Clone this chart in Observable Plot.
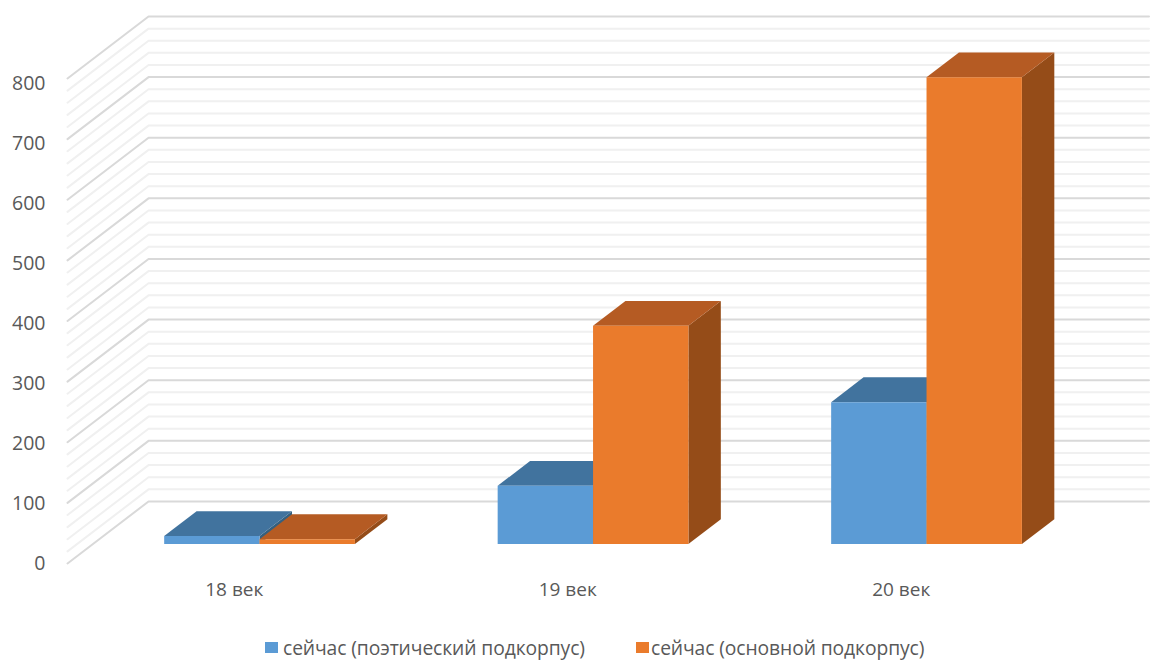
<!DOCTYPE html>
<html lang="ru">
<head>
<meta charset="utf-8">
<script src="https://cdn.jsdelivr.net/npm/d3@7"></script>
<script src="https://cdn.jsdelivr.net/npm/@observablehq/plot@0.6"></script>
<style>
html,body{margin:0;padding:0;background:#fff;}
#chart{position:relative;width:1154px;height:662px;overflow:hidden;}
#legend{position:absolute;left:0;top:634px;width:1154px;height:28px;font:19.3px "Open Sans",sans-serif;color:#595959;}
.item{position:absolute;top:0;white-space:nowrap;line-height:28px;letter-spacing:-0.1px;}
.sw{position:absolute;top:8px;width:13px;height:11px;}
</style>
</head>
<body>
<div id="chart"></div>
<script>
// Data
const categories = ["18 век", "19 век", "20 век"];
const poetic = [13, 96, 234];
const mainCorpus = [8, 360, 770];
const seriesNames = ["сейчас (поэтический подкорпус)", "сейчас (основной подкорпус)"];
const valueTicks = [0, 100, 200, 300, 400, 500, 600, 700, 800];
const minorStep = 20;

// Oblique-projection constants, in data units
const depthX = 0.243, depthY = 102.3;   // shift of the full chart depth
const barW = 0.286, depthFront = 0.3, depthBack = 0.7;
const barNudgeX = 0.003, barNudgeY = 1.5;
const P = (x, v, d) => ({x: x + d * depthX, y: v + d * depthY});
const B = (x, v, d) => P(x + barNudgeX, v + barNudgeY, d);

const palette = [
  {front: "#5b9bd5", top: "#41739e", side: "#35607f"},
  {front: "#ea7b2c", top: "#b55b23", side: "#954c18"}
];

// Polygons
const polys = [];
function poly(id, color, pts){ pts.forEach(p => polys.push({id, color, ...p})); }
categories.forEach((c, i) => {
  [poetic[i], mainCorpus[i]].forEach((v, s) => {
    const x0 = i + 0.5 + (s - 1) * barW, x1 = x0 + barW, id = c + s, col = palette[s];
    poly(id + "side", col.side, [B(x1,0,depthFront),B(x1,0,depthBack),B(x1,v,depthBack),B(x1,v,depthFront)]);
    poly(id + "top", col.top, [B(x0,v,depthFront),B(x1,v,depthFront),B(x1,v,depthBack),B(x0,v,depthBack)]);
    poly(id + "front", col.front, [B(x0,0,depthFront),B(x1,0,depthFront),B(x1,v,depthFront),B(x0,v,depthFront)]);
  });
});

// Gridlines on the two walls
const gridLevels = d3.range(0, 800 + minorStep, minorStep);
const wallLines = gridLevels.flatMap(v => [
  {id: v, major: v % 100 === 0, ...P(0, v, 0)},
  {id: v, major: v % 100 === 0, ...P(0, v, 1)},
  {id: v, major: v % 100 === 0, ...P(categories.length, v, 1)}
]);

const plot = Plot.plot({
  width: 1154,
  height: 625,
  marginLeft: 67,
  marginRight: 5.5,
  marginTop: 16,
  marginBottom: 62,
  style: {background: "#fff", fontFamily: "'Open Sans',sans-serif"},
  x: {domain: [0, categories.length + depthX]},
  y: {domain: [0, 800 + depthY], axis: null},
  marks: [
    Plot.line(wallLines.filter(d => !d.major), {x: "x", y: "y", z: "id", stroke: "#f0f0f0", strokeWidth: 2}),
    Plot.line(wallLines.filter(d => d.major), {x: "x", y: "y", z: "id", stroke: "#d9d9d9", strokeWidth: 2}),
    Plot.line(polys, {x: "x", y: "y", z: "id", fill: "color", stroke: "none"}),
    // Value labels sit on a slightly tighter spacing than the wall gridlines, as in the source
    Plot.text(valueTicks, {x: 0, y: d => d * 0.99, text: d => String(d), dx: -22, dy: 0.5, textAnchor: "end", fontSize: 19.5, fill: "#595959"}),
    Plot.axisX({ticks: categories.map((c, i) => i + 0.5), tickFormat: (d) => categories[Math.floor(d)], tickSize: 0, tickPadding: 19, label: null, fontSize: 19, color: "#595959"})
  ]
});
document.getElementById("chart").appendChild(plot);

// Legend
const legend = document.createElement("div");
legend.id = "legend";
const legendX = [[265, 283], [636, 651]];
seriesNames.forEach((name, i) => {
  const sw = document.createElement("div");
  sw.className = "sw"; sw.style.left = legendX[i][0] + "px"; sw.style.background = palette[i].front;
  const t = document.createElement("div");
  t.className = "item"; t.style.left = legendX[i][1] + "px"; t.textContent = name;
  legend.append(sw, t);
});
document.getElementById("chart").appendChild(legend);
</script>
</body>
</html>
